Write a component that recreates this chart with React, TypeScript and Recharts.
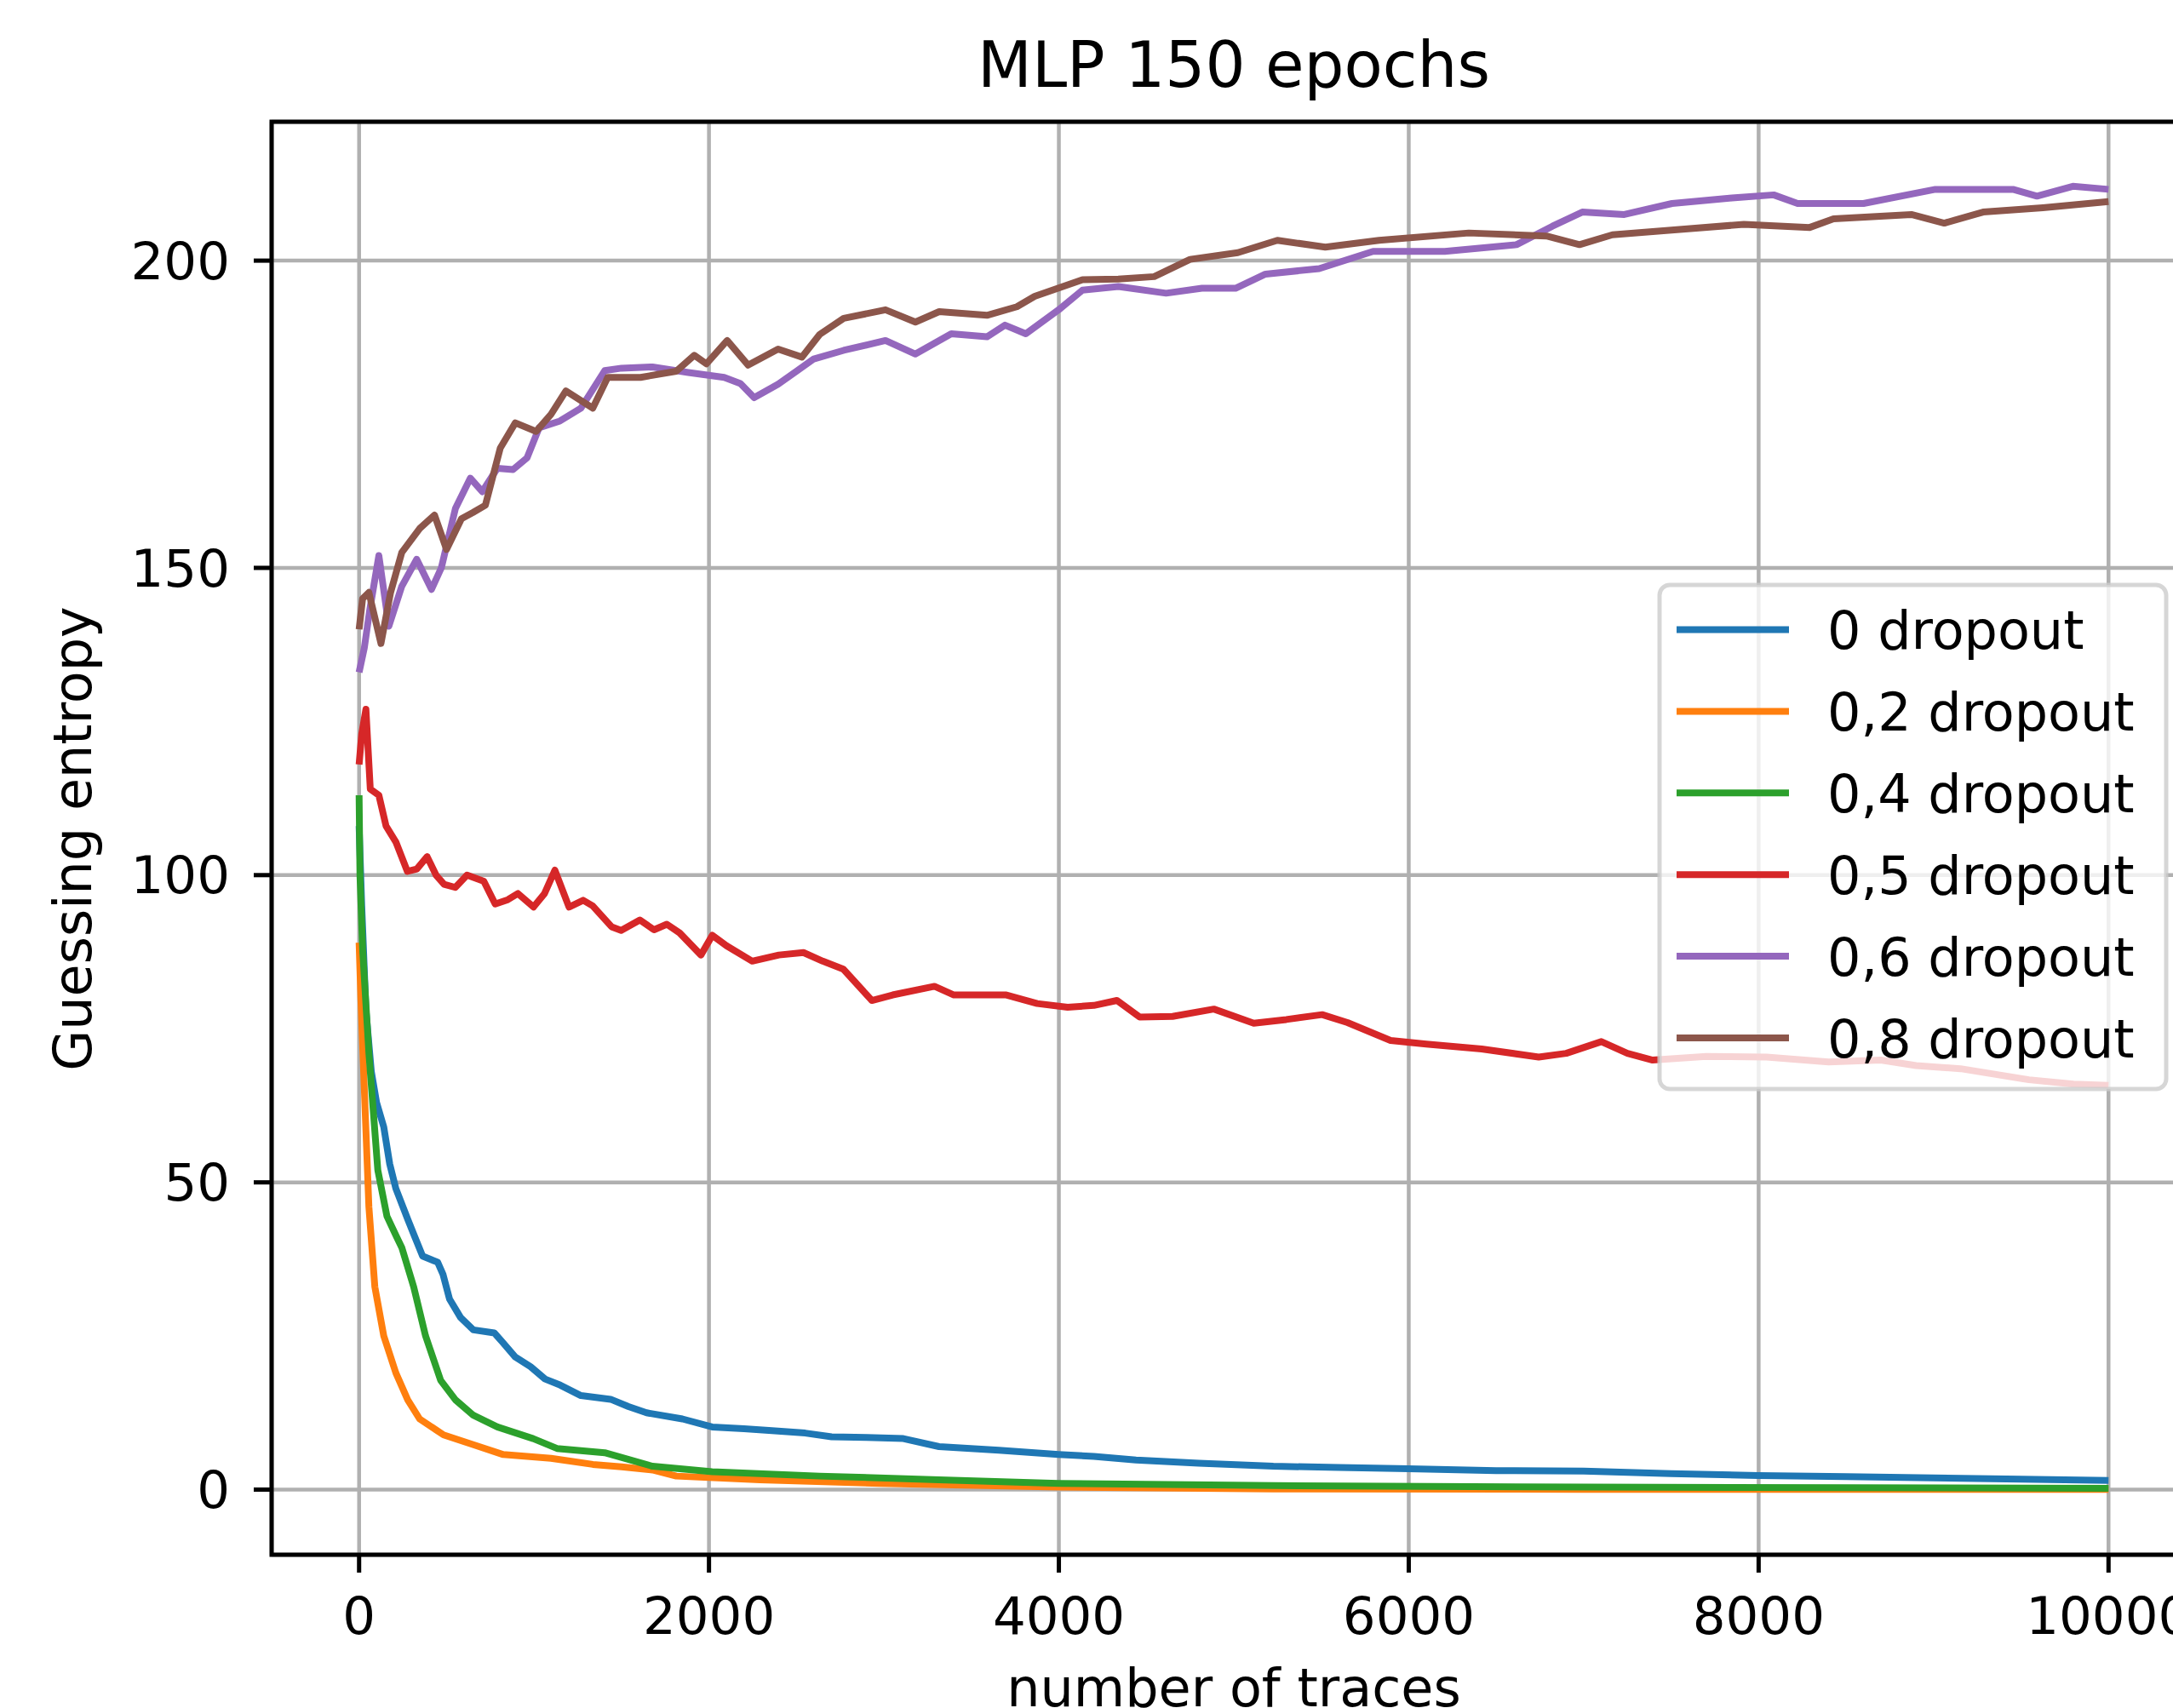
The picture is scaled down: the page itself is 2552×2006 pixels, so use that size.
import React from "react";
import {
  LineChart,
  Line,
  XAxis,
  YAxis,
  CartesianGrid,
  ReferenceArea,
} from "recharts";

// axis setup
const xTicks = [0, 2000, 4000, 6000, 8000, 10000];
const yTicks = [0, 50, 100, 150, 200];
const xDomain: [number, number] = [-500, 10500];
const yDomain: [number, number] = [-10.6, 222.6];

// [number of traces, guessing entropy]
const dropout0: [number, number][] = [
  [0, 108], [15, 95], [39, 78], [70, 68], [100, 63], [141, 59], [175, 53], [210, 49],
  [278, 44], [320, 41], [363, 38], [449, 37], [480, 35], [517, 31], [580, 28], [653, 26],
  [773, 25.5], [820, 24], [892, 21.6], [980, 20], [1063, 18], [1150, 17], [1268, 15.3],
  [1438, 14.7], [1540, 13.5], [1643, 12.5], [1848, 11.5], [2018, 10.2], [2200, 9.9],
  [2360, 9.6], [2550, 9.2], [2701, 8.6], [2900, 8.5], [3111, 8.3], [3315, 7.0], [3657, 6.4],
  [3998, 5.7], [4200, 5.4], [4441, 4.8], [4800, 4.3], [5226, 3.8], [5600, 3.6], [6000, 3.4],
  [6500, 3.1], [7000, 3.0], [7500, 2.6], [8000, 2.3], [8500, 2.1], [9000, 1.9], [9500, 1.7],
  [10000, 1.5],
];

const dropout02: [number, number][] = [
  [0, 89], [10, 80], [22, 71], [39, 58.5], [56, 46], [90, 33], [141, 25], [210, 19],
  [278, 14.6], [346, 11.5], [483, 8.9], [653, 7.3], [824, 5.7], [1097, 5.1], [1336, 4.1],
  [1500, 3.7], [1677, 3.2], [1813, 2.2], [2291, 1.6], [2973, 1.0], [3998, 0.4], [5226, 0.1],
  [7000, 0.05], [10000, 0.02],
];

const dropout04: [number, number][] = [
  [0, 113], [5, 100], [20, 88], [56, 71], [107, 52], [159, 44.5], [210, 41.4], [244, 39.4],
  [312, 33], [380, 25], [466, 17.8], [551, 14.6], [653, 12.1], [790, 10.2], [995, 8.3],
  [1131, 6.7], [1404, 6.0], [1677, 3.8], [2018, 2.9], [2632, 2.2], [3315, 1.6], [3998, 1.0],
  [5226, 0.65], [7000, 0.4], [8500, 0.3], [10000, 0.2],
];

const dropout05: [number, number][] = [
  [0, 118], [15, 123], [39, 127], [64, 114], [113, 113], [154, 108], [210, 105.4],
  [276, 100.6], [330, 101], [389, 103], [440, 100], [486, 98.5], [550, 98], [617, 100],
  [713, 99], [778, 95.3], [850, 96], [908, 97], [997, 94.8], [1060, 97], [1119, 100.8],
  [1200, 94.8], [1281, 95.9], [1335, 95], [1443, 91.6], [1498, 91], [1605, 92.7],
  [1686, 91.1], [1759, 92], [1832, 90.6], [1954, 87], [2019, 90.2], [2100, 88.5],
  [2247, 86], [2400, 87], [2540, 87.4], [2650, 86], [2768, 84.7], [2931, 79.6],
  [3050, 80.5], [3289, 81.9], [3400, 80.5], [3550, 80.5], [3700, 80.5], [3876, 79.1],
  [4050, 78.5], [4200, 78.8], [4332, 79.6], [4462, 76.9], [4650, 77], [4886, 78.2],
  [5114, 75.9], [5300, 76.5], [5505, 77.3], [5650, 76], [5896, 73.1], [6100, 72.5],
  [6417, 71.7], [6743, 70.4], [6900, 71], [7101, 72.9], [7250, 71], [7394, 69.9],
  [7700, 70.5], [8046, 70.4], [8400, 69.6], [8698, 69.9], [8900, 69], [9154, 68.5],
  [9545, 66.7], [9800, 66], [10000, 65.8],
];

const dropout06: [number, number][] = [
  [0, 133], [30, 137], [60, 143], [113, 152], [170, 140.5], [244, 147], [329, 151.4],
  [414, 146.5], [470, 150], [551, 159.7], [636, 164.6], [704, 162.4], [790, 166.2],
  [880, 166], [960, 167.9], [1029, 172.8], [1148, 173.9], [1268, 176], [1404, 182.1],
  [1500, 182.5], [1677, 182.7], [1882, 181.8], [2087, 181], [2180, 180], [2258, 177.7],
  [2395, 179.9], [2500, 182], [2599, 184], [2770, 185.4], [3009, 187], [3180, 184.8],
  [3385, 188.1], [3589, 187.6], [3692, 189.5], [3811, 188.1], [3999, 192], [4135, 195.2],
  [4340, 195.8], [4613, 194.7], [4818, 195.5], [5010, 195.5], [5181, 197.8], [5488, 198.7],
  [5796, 201.5], [6206, 201.5], [6616, 202.6], [6821, 205.6], [6992, 207.9], [7232, 207.5],
  [7505, 209.3], [7847, 210.2], [8086, 210.7], [8223, 209.3], [8599, 209.3], [9010, 211.6],
  [9454, 211.6], [9591, 210.5], [9796, 212.1], [10000, 211.6],
];

const dropout08: [number, number][] = [
  [0, 140], [20, 145], [56, 146], [125, 137.7], [180, 146], [244, 152.5], [346, 156.4],
  [431, 158.6], [500, 153], [585, 158], [650, 159], [722, 160.2], [807, 169.5],
  [893, 173.6], [1012, 172.2], [1097, 175], [1182, 178.8], [1336, 176], [1421, 181],
  [1609, 181], [1813, 182], [1916, 184.6], [1985, 183.2], [2104, 187], [2224, 183],
  [2395, 185.6], [2531, 184.3], [2633, 188], [2770, 190.6], [3009, 192], [3180, 190],
  [3316, 191.7], [3589, 191.1], [3760, 192.5], [3862, 194.2], [4135, 196.9], [4340, 197],
  [4545, 197.4], [4750, 200.2], [5023, 201.3], [5249, 203.3], [5523, 202.2], [5830, 203.3],
  [6343, 204.5], [6787, 204], [6976, 202.6], [7164, 204.2], [7471, 204.9], [7916, 205.9],
  [8292, 205.4], [8428, 206.8], [8873, 207.5], [9061, 206.1], [9283, 207.9], [9625, 208.6],
  [10000, 209.6],
];

const seriesNames = ["0 dropout", "0,2 dropout", "0,4 dropout", "0,5 dropout", "0,6 dropout", "0,8 dropout"];
const seriesColors = ["#1f77b4", "#ff7f0e", "#2ca02c", "#d62728", "#9467bd", "#8c564b"];
const seriesPoints = [dropout0, dropout02, dropout04, dropout05, dropout06, dropout08];

const FONT = "'DejaVu Sans', sans-serif";

const toRows = (pts: [number, number][]) => pts.map(([x, y]) => ({ x, y }));

const App: React.FC = () => {
  return (
    <div
      style={{
        position: "absolute",
        left: 0,
        top: 0,
        width: 2552,
        height: 2006,
        overflow: "hidden",
        background: "#fff",
      }}
    >
      <div style={{ position: "absolute", left: 0, top: 0 }}>
        <LineChart width={2600} height={2006} margin={{ top: 143, right: 21, bottom: 0, left: 0 }}>
          <CartesianGrid stroke="#b0b0b0" strokeWidth={4.5} />
          <XAxis
            dataKey="x"
            type="number"
            domain={xDomain}
            ticks={xTicks}
            interval={0}
            allowDataOverflow
            height={180}
            tickSize={21}
            tickMargin={29}
            axisLine={false}
            tickLine={{ stroke: "#000", strokeWidth: 5 }}
            tick={{ fontSize: 61, fill: "#000", fontFamily: FONT }}
          />
          <YAxis
            type="number"
            domain={yDomain}
            ticks={yTicks}
            interval={0}
            allowDataOverflow
            width={319}
            tickSize={21}
            tickMargin={28}
            axisLine={false}
            tickLine={{ stroke: "#000", strokeWidth: 5 }}
            tick={{ fontSize: 61, fill: "#000", fontFamily: FONT }}
          />
          {seriesPoints.map((pts, i) => (
            <Line
              key={seriesNames[i]}
              name={seriesNames[i]}
              data={toRows(pts)}
              dataKey="y"
              type="linear"
              stroke={seriesColors[i]}
              strokeWidth={8}
              strokeLinejoin="round"
              dot={false}
              activeDot={false}
              isAnimationActive={false}
            />
          ))}
          <ReferenceArea
            x1={xDomain[0]}
            x2={xDomain[1]}
            y1={yDomain[0]}
            y2={yDomain[1]}
            fill="none"
            fillOpacity={0}
            stroke="#000"
            strokeWidth={5}
            ifOverflow="visible"
          />
        </LineChart>
      </div>

      {/* title, axis labels and legend on top */}
      <svg
        width={2552}
        height={2006}
        style={{ position: "absolute", left: 0, top: 0, pointerEvents: "none" }}
        fontFamily={FONT}
      >
        <text x={1449} y={102} textAnchor="middle" fontSize={74} fill="#000">
          MLP 150 epochs
        </text>
        <text x={1449} y={2004} textAnchor="middle" fontSize={62} fill="#000">
          number of traces
        </text>
        <text
          x={107}
          y={985}
          textAnchor="middle"
          fontSize={62}
          fill="#000"
          transform="rotate(-90 107 985)"
        >
          Guessing entropy
        </text>

        <rect
          x={1949}
          y={687}
          width={595}
          height={592}
          rx={12}
          ry={12}
          fill="#fff"
          fillOpacity={0.8}
          stroke="#cccccc"
          strokeOpacity={0.8}
          strokeWidth={5}
        />
        {seriesNames.map((name, i) => {
          const cy = 739.5 + i * 95.9;
          return (
            <g key={name}>
              <line x1={1969} x2={2101} y1={cy} y2={cy} stroke={seriesColors[i]} strokeWidth={8} />
              <text x={2146} y={cy + 22.6} fontSize={62} fill="#000">
                {name}
              </text>
            </g>
          );
        })}
      </svg>
    </div>
  );
};

export default App;
